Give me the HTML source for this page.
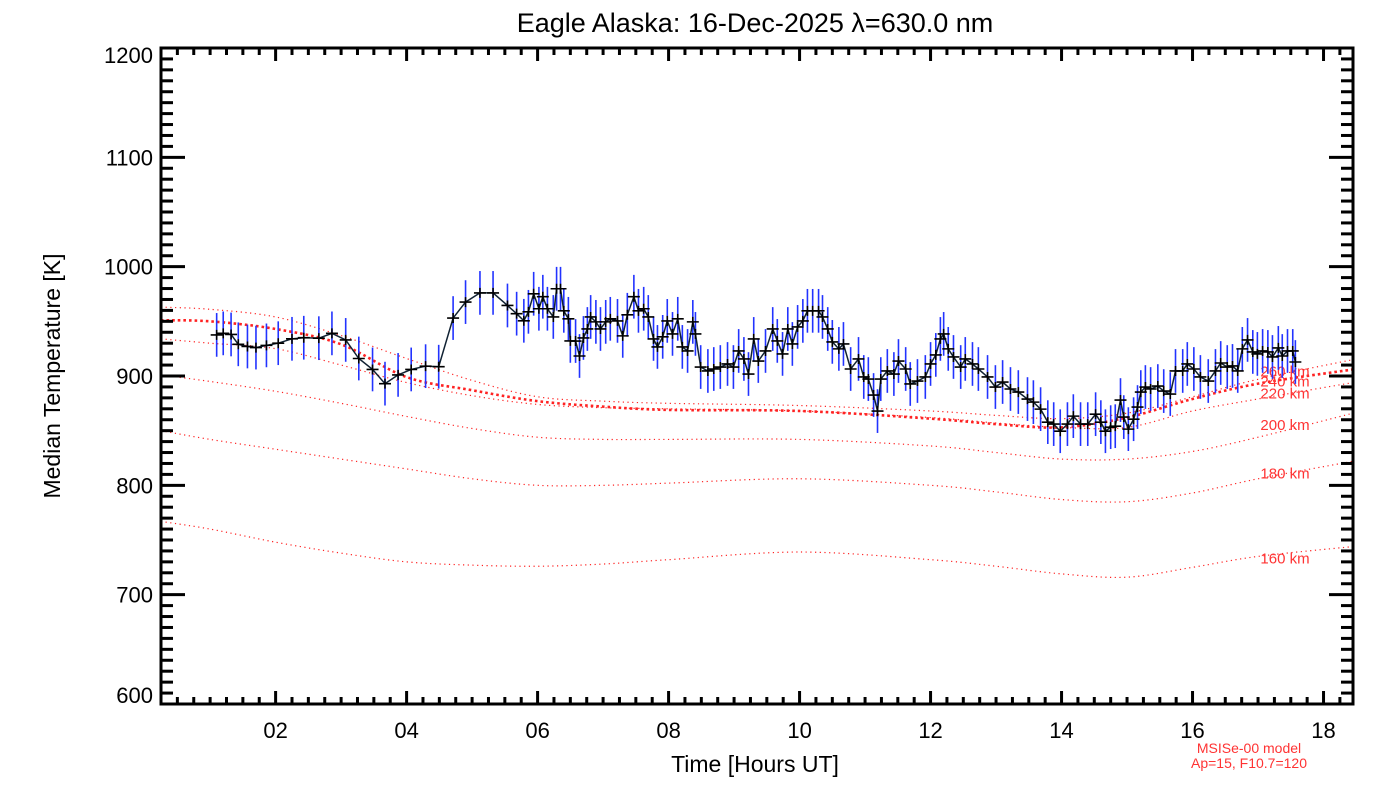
<!DOCTYPE html>
<html><head><meta charset="utf-8"><style>
html,body{margin:0;padding:0;background:#fff;}
svg{display:block;font-family:"Liberation Sans",sans-serif;}
</style></head><body>
<svg id="chart" width="1400" height="800" xmlns="http://www.w3.org/2000/svg">
<rect width="1400" height="800" fill="#fff"/>
<text x="755" y="32" font-size="27" text-anchor="middle" fill="#000">Eagle Alaska: 16-Dec-2025 λ=630.0 nm</text>
<text x="755" y="772" font-size="23" text-anchor="middle" fill="#000">Time [Hours UT]</text>
<text transform="translate(60,376) rotate(-90)" font-size="23" text-anchor="middle" fill="#000">Median Temperature [K]</text>
<text x="1249" y="753" font-size="14" text-anchor="middle" fill="#f33">MSISe-00 model</text>
<text x="1249" y="768" font-size="14" text-anchor="middle" fill="#f33">Ap=15, F10.7=120</text>
<g id="models"></g><g id="series"></g><g id="axes"></g>
</svg>
<script>
const modelTimes=[0.25,1,2,3,4,5,6,7,8,10,12,13,14,15,16,17,18.45];
const model160=[767,760,748,738,730,727,726,728,732,739,732,726,719,716,725,735,744];
const model180=[850,842,833,824,815,806,800,800,802,806,800,794,787,785,793,806,822];
const model200=[901,895,886,875,863,852,844,842,842,842,836,830,824,824,831,844,866];
const model220=[934,930,925,910,894,882,874,871,870,868,862,857,853,853,868,879,894];
const model240=[951,950,943,929,899,887,877,872,869,868,861,856,853,862,879,893,906];
const model260=[963,961,954,937,916,896,881,877,875,873,868,864,861,866,881,897,915];
const modelLabels=["160 km","180 km","200 km","220 km","240 km","260 km"];
const labelTemps=[733,811,855,884,895,904];
const times=[1.10,1.20,1.32,1.43,1.57,1.70,1.86,2.04,2.25,2.43,2.66,2.86,3.07,3.27,3.48,3.67,3.87,4.07,4.29,4.49,4.71,4.90,5.12,5.32,5.54,5.68,5.79,5.86,5.94,6.02,6.08,6.15,6.24,6.29,6.35,6.40,6.47,6.50,6.58,6.64,6.70,6.76,6.81,6.89,6.96,7.04,7.11,7.22,7.30,7.37,7.47,7.54,7.62,7.69,7.77,7.83,7.91,7.98,8.06,8.14,8.21,8.29,8.37,8.41,8.49,8.60,8.69,8.79,8.90,8.99,9.07,9.15,9.22,9.30,9.37,9.48,9.59,9.66,9.74,9.82,9.89,9.97,10.05,10.12,10.20,10.29,10.35,10.43,10.50,10.60,10.67,10.78,10.90,10.98,11.05,11.13,11.19,11.24,11.34,11.44,11.51,11.62,11.69,11.80,11.92,12.00,12.08,12.15,12.20,12.27,12.35,12.46,12.53,12.64,12.73,12.87,12.99,13.10,13.22,13.34,13.48,13.57,13.68,13.79,13.88,13.98,14.09,14.18,14.29,14.40,14.52,14.60,14.67,14.75,14.82,14.90,14.95,15.02,15.10,15.16,15.21,15.28,15.36,15.47,15.56,15.66,15.74,15.85,15.92,16.02,16.12,16.24,16.35,16.43,16.53,16.61,16.69,16.76,16.84,16.92,16.99,17.07,17.15,17.22,17.31,17.37,17.45,17.53,17.57];
const temps=[937.6,939,938,929,927,926,928,930,934,935,934.6,939,933,916,906,893,901,906,909,908.5,953,967.6,976,976,964.5,957,950.5,958.7,975.2,961.5,972.5,961.5,954,979.8,979.8,959.6,952.3,932.1,932,918.3,934.8,943,954,949.5,943,949.5,952.3,950.4,936.7,956,972.5,959.6,961.5,954,933.9,926.6,935.8,950.4,938.5,952.3,926.6,922.9,949.5,938.5,908.2,904.6,906.4,908.2,911,908.2,922.9,915.6,901.8,933.9,913.7,922.9,943,932.1,920.2,943,929.3,944.9,950.4,959.6,959.6,959.6,954,943,931.2,924.8,929.3,906.4,915.6,899.1,897.2,882.6,867.9,897.2,904.6,901.8,913.7,906.4,892.7,895.4,899.1,911,919.3,933.9,938.5,924.8,917.4,908.2,915.6,911,906.4,899.1,889.9,894.5,888.1,885.3,878.9,876.1,869.7,857.8,856,849.5,856,863.3,856,856,865.1,857.8,849.5,853.2,854.1,878,862.4,851.4,860.5,871.6,885.3,889.9,888.1,890.8,886.2,883.5,904.6,904.6,911,906.4,899.1,895.4,904.6,911.9,908.2,909.2,904.6,924.8,933,922,920.2,922.9,922,917.4,925.7,918.3,922.9,922.9,912.8];
const errHalf=20;
const yTicks=[600,700,800,900,1000,1100,1200];
const xTicks=["02","04","06","08","10","12","14","16","18"];

const L=161,R=1353,T=48,B=704,XMIN=0.25,XMAX=18.45,YMIN=600,YMAX=1200;
const X=t=>L+(t-XMIN)/(XMAX-XMIN)*(R-L);
const Y=v=>B-(v-YMIN)/(YMAX-YMIN)*(B-T);
const NS="http://www.w3.org/2000/svg";
function mk(tag,parent,attrs){const e=document.createElementNS(NS,tag);for(const k in attrs)e.setAttribute(k,attrs[k]);parent.appendChild(e);return e;}
function smooth(xs,ys){
  const p=xs.map((t,i)=>[X(t),Y(ys[i])]);let d="M"+p[0][0]+","+p[0][1];
  for(let i=0;i<p.length-1;i++){const p0=p[Math.max(0,i-1)],p1=p[i],p2=p[i+1],p3=p[Math.min(p.length-1,i+2)];
    d+=" C"+(p1[0]+(p2[0]-p0[0])/6)+","+(p1[1]+(p2[1]-p0[1])/6)+" "+(p2[0]-(p3[0]-p1[0])/6)+","+(p2[1]-(p3[1]-p1[1])/6)+" "+p2[0]+","+p2[1];}
  return d;}
const gm=document.getElementById('models');
const models=[model160,model180,model200,model220,model240,model260];
models.forEach((m,i)=>{
  const thick=i===4;
  const p=mk('path',gm,{d:smooth(modelTimes,m),fill:'none',stroke:'#f22','stroke-width':thick?2.6:1.2,'stroke-dasharray':thick?'2.6 3':'1.2 3.5'});
  
  
  const t=mk('text',gm,{x:1285,y:Y(labelTemps[i])+5,'font-size':15,'text-anchor':'middle',fill:'#f33'});
  t.textContent=modelLabels[i];
  
  
});
const gs=document.getElementById('series');
times.forEach((t,i)=>{
  const e=mk('line',gs,{x1:X(t),x2:X(t),y1:Y(temps[i]-errHalf),y2:Y(temps[i]+errHalf),stroke:'#2233ff','stroke-width':1.6});
  
  
});
const ln=mk('polyline',gs,{points:times.map((t,i)=>X(t)+","+Y(temps[i])).join(" "),fill:'none',stroke:'#123','stroke-width':1.5});


times.forEach((t,i)=>{
  const x=X(t),y=Y(temps[i]);
  const m=mk('path',gs,{d:`M${x-6},${y}H${x+6}M${x},${y-5}V${y+5}`,stroke:'#000','stroke-width':1.6});
  
  
});
const ga=document.getElementById('axes');
const fr=mk('rect',ga,{x:L,y:T,width:R-L,height:B-T,fill:'none',stroke:'#000','stroke-width':3});


for(let v=YMIN;v<=YMAX;v+=10){
  const major=v%100===0,len=major?24:12,y=Y(v);
  mk('line',ga,{x1:L,x2:L+len,y1:y,y2:y,stroke:'#000','stroke-width':3});
  mk('line',ga,{x1:R,x2:R-len,y1:y,y2:y,stroke:'#000','stroke-width':3});
}
yTicks.forEach(v=>{
  const off=v===600?-1:(v===1200?15:8);
  const t=mk('text',ga,{x:L-8,y:Y(v)+off,'font-size':22,'text-anchor':'end',fill:'#000'});
  t.textContent=v;
  
  
});
for(let q=1;q<=73;q++){
  const h=q*0.25;if(h<XMIN||h>XMAX)continue;
  const major=(q%8===0),len=major?13:7,x=X(h);
  mk('line',ga,{x1:x,x2:x,y1:B,y2:B-len,stroke:'#000','stroke-width':3});
  mk('line',ga,{x1:x,x2:x,y1:T,y2:T+len,stroke:'#000','stroke-width':3});
}
xTicks.forEach(s=>{
  const t=mk('text',ga,{x:X(parseInt(s,10)),y:738,'font-size':22,'text-anchor':'middle',fill:'#000'});
  t.textContent=s;
  
  
});
</script>
</body></html>
